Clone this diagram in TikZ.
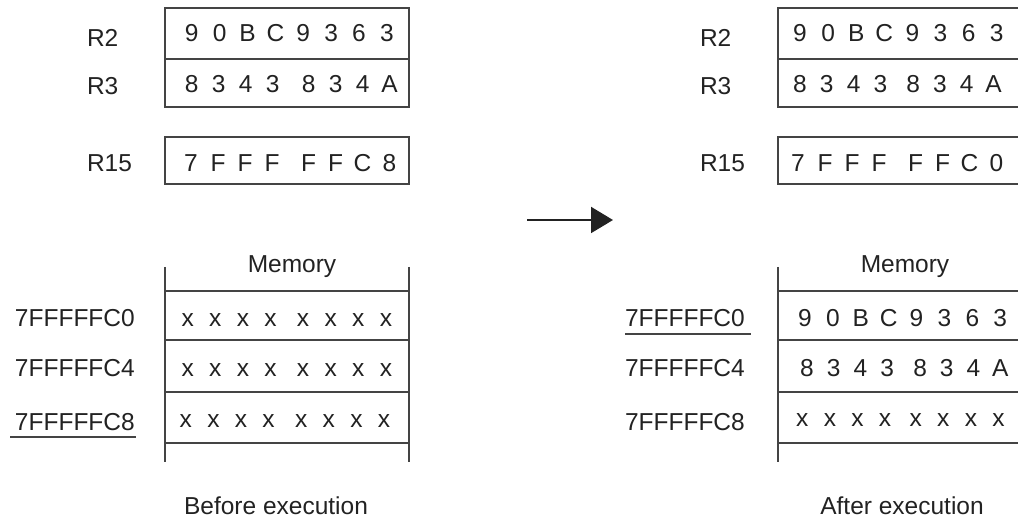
\documentclass[tikz,border=0pt]{standalone}
\usepackage{fontspec}
\setmainfont{Liberation Sans}
\usetikzlibrary{arrows.meta}
\newlength\cp
\newcommand\cells[9]{\makebox[\cp]{#2}\makebox[\cp]{#3}\makebox[\cp]{#4}\makebox[\cp]{#5}\hspace{#1}\makebox[\cp]{#6}\makebox[\cp]{#7}\makebox[\cp]{#8}\makebox[\cp]{#9}}
\definecolor{ink}{HTML}{222222}
\definecolor{rule}{HTML}{444444}
\begin{document}
\begin{tikzpicture}[x=0.5pt,y=-0.5pt,
  every node/.style={inner sep=0pt,outer sep=0pt,text=ink,font=\fontsize{12.25}{14}\selectfont},
  lbl/.style={anchor=base west},
  val/.style={anchor=base west},
  titletext/.style={anchor=base},
  frame/.style={draw=rule,line width=0.65pt}]
\useasboundingbox (0,0) rectangle (1018,518);
\clip (0,0) rectangle (1018,518);
% ---------- left: registers
\draw[frame] (165,8) rectangle (409,107);
\draw[frame] (165,59) -- (409,59);
\draw[frame] (165,137) rectangle (409,184);
\node[lbl] (lR2) at (87,47) {R2};
\node[lbl] (lR3) at (87,95) {R3};
\node[lbl] (lR15) at (87,172) {R15};
\node[val] (vR2) at (177.75,42) {\setlength\cp{13.95pt}\cells{0pt}{9}{0}{B}{C}{9}{3}{6}{3}};
\node[val] (vR3) at (178.2,93) {\setlength\cp{13.5pt}\cells{4.5pt}{8}{3}{4}{3}{8}{3}{4}{A}};
\node[val] (vR15) at (177.5,172) {\setlength\cp{13.5pt}\cells{4.75pt}{7}{F}{F}{F}{F}{F}{C}{8}};
% ---------- left: memory
\draw[frame] (165,267) -- (165,462);
\draw[frame] (409,267) -- (409,462);
\foreach \yy in {291,340,392,443} \draw[frame] (165,\yy) -- (409,\yy);
\node[titletext] (mL) at (292,273) {Memory};
\node[lbl] (aL0) at (15,327) {7FFFFFC0};
\node[lbl] (aL4) at (15,377) {7FFFFFC4};
\node[lbl] (aL8) at (15,430) {7FFFFFC8};
\draw[frame] (10,437) -- (136,437);
\node[val] (mL0) at (173.9,327) {\setlength\cp{13.8pt}\cells{2.5pt}{x}{x}{x}{x}{x}{x}{x}{x}};
\node[val] (mL4) at (173.9,377) {\setlength\cp{13.8pt}\cells{2.5pt}{x}{x}{x}{x}{x}{x}{x}{x}};
\node[val] (mL8) at (172,428) {\setlength\cp{13.8pt}\cells{2.5pt}{x}{x}{x}{x}{x}{x}{x}{x}};
\node[titletext] (bL) at (276,514) {Before execution};
% ---------- arrow
\coordinate (as) at (527,220);
\coordinate (ae) at (613,220);
\draw[ink,line width=1pt,-{Triangle[length=11pt,width=13pt]}] (as) -- (ae);
% ---------- right: registers
\draw[frame] (778,8) rectangle (1030,107);
\draw[frame] (778,59) -- (1030,59);
\draw[frame] (778,137) rectangle (1030,184);
\node[lbl] (rR2) at (700,47) {R2};
\node[lbl] (rR3) at (700,95) {R3};
\node[lbl] (rR15) at (700,172) {R15};
\node[val] (wR2) at (786,42) {\setlength\cp{14.05pt}\cells{0pt}{9}{0}{B}{C}{9}{3}{6}{3}};
\node[val] (wR3) at (786.6,93) {\setlength\cp{13.4pt}\cells{3pt}{8}{3}{4}{3}{8}{3}{4}{A}};
\node[val] (wR15) at (784.5,172) {\setlength\cp{13.5pt}\cells{4.75pt}{7}{F}{F}{F}{F}{F}{C}{0}};
% ---------- right: memory
\draw[frame] (778,267) -- (778,462);
\foreach \yy in {291,340,392,443} \draw[frame] (778,\yy) -- (1030,\yy);
\node[titletext] (mR) at (905,273) {Memory};
\node[lbl] (aR0) at (625,327) {7FFFFFC0};
\node[lbl] (aR4) at (625,377) {7FFFFFC4};
\node[lbl] (aR8) at (625,430) {7FFFFFC8};
\draw[frame] (625,334) -- (751,334);
\node[val] (mR0) at (791,327) {\setlength\cp{13.95pt}\cells{0pt}{9}{0}{B}{C}{9}{3}{6}{3}};
\node[val] (mR4) at (793.65,377) {\setlength\cp{13.35pt}\cells{3.15pt}{8}{3}{4}{3}{8}{3}{4}{A}};
\node[val] (mR8) at (788.5,427) {\setlength\cp{13.8pt}\cells{1.5pt}{x}{x}{x}{x}{x}{x}{x}{x}};
\node[titletext] (bR) at (902,514) {After execution};
\end{tikzpicture}
\end{document}
